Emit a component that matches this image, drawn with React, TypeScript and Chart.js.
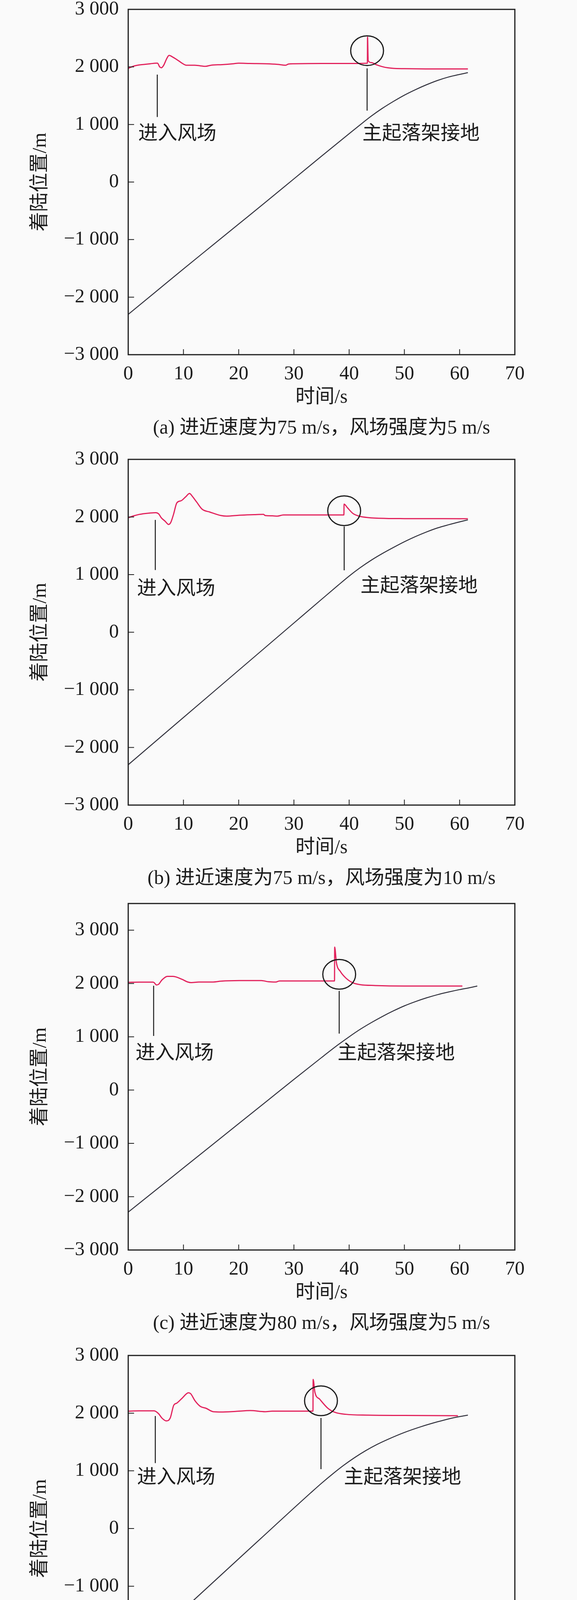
import { useEffect, useRef } from 'react';
import { Chart, registerables } from 'chart.js';

Chart.register(...registerables);

// axis ticks
const xTicks = [0, 10, 20, 30, 40, 50, 60, 70];
const yTicks = [-3000, -2000, -1000, 0, 1000, 2000, 3000];

// (a) 75 m/s, 5 m/s
const tPredA = [0, 1, 2, 3, 4, 5, 5.3, 5.7, 6, 6.4, 7, 7.4, 8, 9, 10, 10.5, 12, 13, 14, 15, 17, 19, 20, 22, 25, 27, 28.5, 29, 30, 35, 40, 43.3, 43.33, 43.45, 44, 45, 46, 47, 48, 50, 55, 61.5];
const predA = [1975, 2015, 2035, 2045, 2055, 2065, 2065, 2000, 1985, 2025, 2150, 2200, 2175, 2115, 2050, 2030, 2030, 2020, 2010, 2030, 2040, 2055, 2065, 2060, 2055, 2045, 2030, 2050, 2055, 2060, 2060, 2065, 2520, 2110, 2075, 2035, 2005, 1985, 1975, 1970, 1965, 1965];
const tFlightA = [0, 5, 10, 15, 20, 25, 30, 35, 40, 42, 44, 46, 48, 50, 52, 54, 56, 58, 60, 61.5];
const flightA = [-2300, -1905, -1510, -1120, -730, -340, 55, 450, 840, 995, 1145, 1280, 1400, 1510, 1605, 1690, 1765, 1825, 1870, 1900];

// (b) 75 m/s, 10 m/s
const tPredB = [0, 1, 2, 3, 4, 5, 5.5, 6, 6.7, 7.3, 7.7, 8.2, 8.8, 9.6, 10.4, 11.1, 11.6, 12.4, 13.4, 14.8, 16.8, 17.8, 20.1, 22.8, 24.5, 24.8, 26.1, 27, 28.1, 30, 35, 39.05, 39.08, 39.7, 40.7, 42, 43.4, 46.7, 50, 61.5];
const predB = [1985, 2020, 2045, 2060, 2070, 2075, 2055, 1985, 1925, 1870, 1905, 2045, 2245, 2283, 2350, 2408, 2360, 2258, 2134, 2085, 2025, 2015, 2030, 2040, 2045, 2025, 2020, 2015, 2035, 2035, 2035, 2035, 2224, 2160, 2060, 2010, 1990, 1975, 1972, 1970];
const tFlightB = [0, 5, 10, 15, 20, 25, 30, 35, 38, 40, 42, 44, 46, 48, 50, 52, 54, 56, 58, 60, 61.5];
const flightB = [-2300, -1890, -1480, -1070, -660, -250, 160, 570, 815, 975, 1120, 1250, 1365, 1470, 1570, 1660, 1740, 1810, 1865, 1915, 1950];

// (c) 80 m/s, 5 m/s
const tPredC = [0, 2, 4.5, 4.7, 5.1, 5.5, 6.1, 7.1, 8.1, 8.8, 9.8, 10.8, 11.4, 12.8, 15.4, 16.8, 20.1, 24.1, 25.4, 26.7, 27.4, 30, 37.35, 37.38, 37.7, 38.4, 39.4, 40.7, 42, 44.7, 50, 60.5];
const predC = [2021, 2025, 2025, 2015, 1973, 1984, 2065, 2134, 2134, 2118, 2075, 2027, 2016, 2027, 2027, 2043, 2054, 2054, 2032, 2027, 2048, 2048, 2048, 2683, 2387, 2226, 2102, 2011, 1978, 1962, 1952, 1952];
const tFlightC = [0, 5, 10, 15, 20, 25, 30, 35, 38, 40, 42, 44, 46, 48, 50, 52, 54, 56, 58, 60, 62, 63.2];
const flightC = [-2290, -1875, -1460, -1045, -630, -215, 200, 610, 850, 1000, 1140, 1265, 1380, 1485, 1580, 1660, 1730, 1790, 1840, 1885, 1925, 1952];

// (d) 80 m/s, 10 m/s
const tPredD = [0, 2, 4.7, 5.5, 6.1, 6.9, 7.6, 8.25, 8.8, 9.8, 10.9, 11.3, 12.1, 13.1, 14.1, 15.4, 16.8, 19.4, 22.1, 24.8, 26.1, 30, 33.45, 33.48, 33.8, 34.7, 36.1, 37.4, 39.4, 43.4, 50, 59.7];
const predD = [2035, 2040, 2040, 1990, 1915, 1866, 1915, 2139, 2174, 2263, 2353, 2338, 2214, 2114, 2084, 2025, 2020, 2030, 2045, 2025, 2035, 2035, 2035, 2586, 2363, 2239, 2089, 2015, 1980, 1965, 1960, 1955];
const tFlightD = [0, 5, 10, 15, 20, 25, 30, 33, 35, 37, 39, 41, 43, 45, 47, 50, 53, 56, 58, 60, 61.5];
const flightD = [-2285, -1845, -1405, -965, -525, -85, 355, 615, 785, 945, 1095, 1230, 1350, 1455, 1545, 1665, 1765, 1850, 1900, 1940, 1965];

const captions = [
  '(a) 进近速度为75 m/s，风场强度为5 m/s',
  '(b) 进近速度为75 m/s，风场强度为10 m/s',
  '(c) 进近速度为80 m/s，风场强度为5 m/s',
  '(d) 进近速度为80 m/s，风场强度为10 m/s',
];
const legendLabels = ['实时预测着陆位置', '飞机动态飞行位置'];
const windLabel = '进入风场';
const touchLabel = '主起落架接地';
const xTitle = '时间/s';
const yTitle = '着陆位置/m';

const RED = '#e2225c';
const DARK = '#34343f';
const INK = '#1c1c1c';
const BG = '#fafafa';
const FONT = "'Liberation Serif', 'Noto Sans CJK SC', serif";
const FS = 50;

const W = 1476;
const PLOT_LEFT = 328;
const PLOT_RIGHT = 1317;
const XH = 80;

type Callout = {
  wind: [number, number, number]; // t, y from, y to
  windText: [number, number];
  ring: [number, number];
  touch: [number, number, number];
  touchText: [number, number];
};

type Panel = {
  top: number;
  height: number;
  plotTop: number;
  plotBottom: number;
  yMax: number;
  tPred: number[];
  pred: number[];
  tFlight: number[];
  flight: number[];
  caption: string;
  callout: Callout;
  legend?: boolean;
};

const panels: Panel[] = [
  {
    top: 0, height: 1150, plotTop: 24, plotBottom: 908, yMax: 3000,
    tPred: tPredA, pred: predA, tFlight: tFlightA, flight: flightA, caption: captions[0],
    callout: { wind: [5.26, 1866, 1130], windText: [1.8, 832], ring: [43.25, 2283], touch: [43.25, 1975, 1240], touchText: [42.4, 832] },
  },
  {
    top: 1130, height: 1175, plotTop: 1176, plotBottom: 2061, yMax: 3000,
    tPred: tPredB, pred: predB, tFlight: tFlightB, flight: flightB, caption: captions[1],
    callout: { wind: [4.9, 1950, 1080], windText: [1.6, 742], ring: [39.1, 2109], touch: [39.1, 1836, 1075], touchText: [42.05, 792] },
  },
  {
    top: 2265, height: 1185, plotTop: 2313, plotBottom: 3200, yMax: 3500,
    tPred: tPredC, pred: predC, tFlight: tFlightC, flight: flightC, caption: captions[2],
    callout: { wind: [4.6, 1957, 1016], windText: [1.33, 677], ring: [38.2, 2172], touch: [38.2, 1860, 1059], touchText: [37.9, 677] },
  },
  {
    top: 3420, height: 1225, plotTop: 3470, plotBottom: 4356, yMax: 3000,
    tPred: tPredD, pred: predD, tFlight: tFlightD, flight: flightD, caption: captions[3],
    callout: { wind: [4.9, 1950, 1135], windText: [1.6, 872], ring: [34.9, 2214], touch: [34.9, 1916, 1030], touchText: [39.05, 872] },
    legend: true,
  },
];

const zip = (xs: number[], ys: number[]) => xs.map((x, i) => ({ x, y: ys[i] }));

const fmt = (v: number) => {
  const a = Math.abs(v);
  const s = a >= 1000 ? `${Math.floor(a / 1000)} ${String(a % 1000).padStart(3, '0')}` : String(a);
  return v < 0 ? `−${s}` : s;
};

function PanelChart({ spec }: { spec: Panel }) {
  const canvasRef = useRef<HTMLCanvasElement>(null);

  useEffect(() => {
    if (!canvasRef.current) return;
    const c = spec.callout;

    const decor = {
      id: 'decor',
      afterDraw(chart: Chart) {
        const { ctx, chartArea: a } = chart;
        const x = chart.scales.x;
        const y = chart.scales.y;
        ctx.save();
        ctx.strokeStyle = INK;
        ctx.fillStyle = INK;

        // inward tick marks
        ctx.lineWidth = 2;
        ctx.beginPath();
        xTicks.slice(1, -1).forEach(v => {
          const px = x.getPixelForValue(v);
          ctx.moveTo(px, a.bottom);
          ctx.lineTo(px, a.bottom - 14);
        });
        yTicks.forEach(v => {
          if (v <= y.min || v >= y.max) return;
          const py = y.getPixelForValue(v);
          ctx.moveTo(a.left, py);
          ctx.lineTo(a.left + 15, py);
        });
        ctx.stroke();

        // frame
        ctx.lineWidth = 3;
        ctx.strokeRect(a.left, a.top, a.right - a.left, a.bottom - a.top);

        // callouts
        ctx.lineWidth = 2.5;
        ctx.beginPath();
        ctx.moveTo(x.getPixelForValue(c.wind[0]), y.getPixelForValue(c.wind[1]));
        ctx.lineTo(x.getPixelForValue(c.wind[0]), y.getPixelForValue(c.wind[2]));
        ctx.moveTo(x.getPixelForValue(c.touch[0]), y.getPixelForValue(c.touch[1]));
        ctx.lineTo(x.getPixelForValue(c.touch[0]), y.getPixelForValue(c.touch[2]));
        ctx.stroke();
        ctx.lineWidth = 3;
        ctx.beginPath();
        ctx.ellipse(x.getPixelForValue(c.ring[0]), y.getPixelForValue(c.ring[1]), 42, 38, 0, 0, Math.PI * 2);
        ctx.stroke();

        ctx.font = `${FS}px ${FONT}`;
        ctx.textBaseline = 'middle';
        ctx.textAlign = 'left';
        ctx.fillText(windLabel, x.getPixelForValue(c.windText[0]), y.getPixelForValue(c.windText[1]));
        ctx.fillText(touchLabel, x.getPixelForValue(c.touchText[0]), y.getPixelForValue(c.touchText[1]));

        // axis titles and caption
        const cx = (a.left + a.right) / 2;
        ctx.textAlign = 'center';
        ctx.fillText(xTitle, cx, a.bottom + 110);
        ctx.fillText(spec.caption, cx, a.bottom + 189);
        ctx.save();
        ctx.translate(104, (a.top + a.bottom) / 2);
        ctx.rotate(-Math.PI / 2);
        ctx.fillText(yTitle, 0, 0);
        ctx.restore();

        if (spec.legend) {
          const ly = 4615 - spec.top;
          ctx.lineWidth = 4;
          ctx.strokeStyle = RED;
          ctx.beginPath();
          ctx.moveTo(263, ly);
          ctx.lineTo(352, ly);
          ctx.stroke();
          ctx.strokeStyle = DARK;
          ctx.beginPath();
          ctx.moveTo(871, ly);
          ctx.lineTo(960, ly);
          ctx.stroke();
          ctx.textAlign = 'left';
          ctx.fillText(legendLabels[0], 375, ly);
          ctx.fillText(legendLabels[1], 984, ly);
        }
        ctx.restore();
      },
    };

    const tickFont = { family: FONT, size: FS };
    const plotH = spec.plotBottom - spec.plotTop;
    const padTop = spec.plotTop - spec.top;
    const padBottom = spec.height - padTop - plotH - XH;

    const chart = new Chart(canvasRef.current, {
      type: 'line',
      data: {
        datasets: [
          {
            label: legendLabels[0],
            data: zip(spec.tPred, spec.pred),
            borderColor: RED,
            borderWidth: 3,
            pointRadius: 0,
            cubicInterpolationMode: 'monotone',
          },
          {
            label: legendLabels[1],
            data: zip(spec.tFlight, spec.flight),
            borderColor: DARK,
            borderWidth: 2.5,
            pointRadius: 0,
            cubicInterpolationMode: 'monotone',
          },
        ],
      },
      options: {
        responsive: false,
        animation: false,
        events: [],
        layout: { padding: { left: 0, right: W - PLOT_RIGHT, top: padTop, bottom: padBottom } },
        plugins: { legend: { display: false }, tooltip: { enabled: false } },
        scales: {
          x: {
            type: 'linear',
            min: 0,
            max: 70,
            grid: { display: false, drawTicks: false },
            border: { display: false },
            afterBuildTicks: (s: any) => { s.ticks = xTicks.map(v => ({ value: v })); },
            afterFit: (s: any) => { s.height = XH; s.paddingLeft = 0; s.paddingRight = 0; },
            ticks: { font: tickFont, color: INK, padding: 20, maxRotation: 0, callback: (v: any) => String(v) },
          },
          y: {
            type: 'linear',
            min: -3000,
            max: spec.yMax,
            grid: { display: false, drawTicks: false },
            border: { display: false },
            afterBuildTicks: (s: any) => { s.ticks = yTicks.map(v => ({ value: v })); },
            afterFit: (s: any) => { s.width = PLOT_LEFT; s.paddingTop = 0; s.paddingBottom = 0; },
            ticks: { font: tickFont, color: INK, padding: 24, callback: (v: any) => fmt(Number(v)) },
          },
        },
      },
      plugins: [decor],
    });

    return () => { chart.destroy(); };
  }, [spec]);

  return (
    <canvas
      ref={canvasRef}
      width={W}
      height={spec.height}
      style={{ position: 'absolute', left: 0, top: spec.top, width: W, height: spec.height }}
    />
  );
}

export default function App() {
  return (
    <div style={{ position: 'absolute', left: 0, top: 0, width: W, height: 4645, background: BG, overflow: 'hidden' }}>
      {panels.map((p, i) => <PanelChart key={i} spec={p} />)}
    </div>
  );
}
